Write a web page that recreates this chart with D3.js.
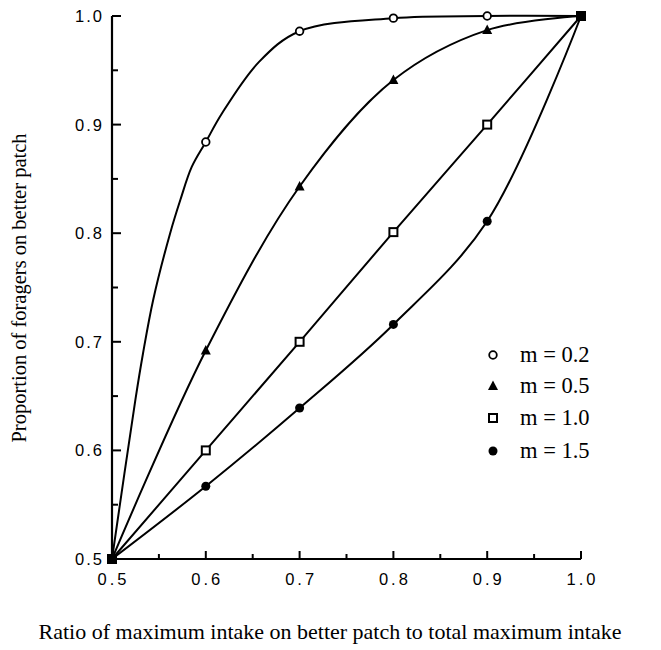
<!DOCTYPE html>
<html>
<head>
<meta charset="utf-8">
<script src="https://cdn.jsdelivr.net/npm/d3@7"></script>
<style>
  body { margin: 0; background: #fff; }
  svg { display: block; }
</style>
</head>
<body>
<svg width="661" height="650"></svg>
<script>
// ratio of max intake on better patch (x) for the marked points
var xMarks = [0.6, 0.7, 0.8, 0.9];
var xTicks = [0.5, 0.6, 0.7, 0.8, 0.9, 1.0];
var yTicks = [0.5, 0.6, 0.7, 0.8, 0.9, 1.0];
var minorTicks = [0.55, 0.65, 0.75, 0.85, 0.95];

// proportion on better patch at the marked x values
var m02 = [0.884, 0.986, 0.998, 1.0];
var m05 = [0.692, 0.843, 0.941, 0.987];
var m10 = [0.600, 0.700, 0.801, 0.900];
var m15 = [0.567, 0.639, 0.716, 0.811];

var m02CurveX = [0.525, 0.533, 0.544, 0.562, 0.573, 0.585, 0.617, 0.657];
var m02CurveY = [0.647, 0.689, 0.739, 0.800, 0.831, 0.861, 0.910, 0.958];

var labels = ["m = 0.2", "m = 0.5", "m = 1.0", "m = 1.5"];
var shapes = ["openCircle", "triangle", "openSquare", "dot"];

var svg = d3.select("svg");
var g = svg.append("g");

var x = d3.scaleLinear().domain([0.5, 1.0]).range([112, 581]);
var y = d3.scaleLinear().domain([0.5, 1.0]).range([559, 16]);

function buildSeries(vals, extraX, extraY) {
    var pts = [[0.5, 0.5]];
    xMarks.forEach(function (xv, i) { pts.push([xv, vals[i]]); });
    if (extraX) {
        extraX.forEach(function (xv, i) { pts.push([xv, extraY[i]]); });
    }
    pts.push([1.0, 1.0]);
    pts.sort(function (a, b) { return a[0] - b[0]; });
    return pts;
}

var series = [
    { vals: m02, pts: buildSeries(m02, m02CurveX, m02CurveY), shape: shapes[0] },
    { vals: m05, pts: buildSeries(m05), shape: shapes[1] },
    { vals: m10, pts: buildSeries(m10), shape: shapes[2] },
    { vals: m15, pts: buildSeries(m15), shape: shapes[3] }
];

var line = d3.line()
    .x(function (d) { return x(d[0]); })
    .y(function (d) { return y(d[1]); })
    .curve(d3.curveCatmullRom.alpha(0.5));

// curves
g.append("g").selectAll("path")
    .data(series)
    .enter()
    .append("path")
    .attr("d", function (d) { return line(d.pts); })
    .attr("fill", "none")
    .attr("stroke", "#000")
    .attr("stroke-width", 2);

// draw one marker shape at (cx, cy)
function marker(sel, shape, cx, cy) {
    if (shape == "openCircle") {
        sel.append("circle").attr("cx", cx).attr("cy", cy).attr("r", 3.8)
            .attr("fill", "#fff").attr("stroke", "#000").attr("stroke-width", 1.8);
    } else if (shape == "dot") {
        sel.append("circle").attr("cx", cx).attr("cy", cy).attr("r", 4.5)
            .attr("fill", "#000");
    } else if (shape == "triangle") {
        sel.append("path")
            .attr("d", "M" + cx + "," + (cy - 5.5) + "L" + (cx + 5) + "," + (cy + 4) + "L" + (cx - 5) + "," + (cy + 4) + "Z")
            .attr("fill", "#000");
    } else if (shape == "openSquare") {
        sel.append("rect").attr("x", cx - 4).attr("y", cy - 4).attr("width", 8).attr("height", 8)
            .attr("fill", "#fff").attr("stroke", "#000").attr("stroke-width", 2);
    } else if (shape == "filledSquare") {
        sel.append("rect").attr("x", cx - 5).attr("y", cy - 5).attr("width", 10).attr("height", 10)
            .attr("fill", "#000");
    }
}

var marks = g.append("g");
series.forEach(function (s) {
    s.vals.forEach(function (v, i) {
        marker(marks, s.shape, x(xMarks[i]), y(v));
    });
});
// shared end points
marker(marks, "filledSquare", x(0.5), y(0.5));
marker(marks, "filledSquare", x(1.0), y(1.0));

// axes
var ax = g.append("g").attr("stroke", "#000");
ax.append("line").attr("x1", x(0.5)).attr("x2", x(1.0)).attr("y1", y(0.5)).attr("y2", y(0.5)).attr("stroke-width", 2.2);
ax.append("line").attr("x1", x(0.5)).attr("x2", x(0.5)).attr("y1", y(0.5)).attr("y2", y(1.0)).attr("stroke-width", 2.2);

xTicks.forEach(function (t) {
    ax.append("line").attr("x1", x(t)).attr("x2", x(t)).attr("y1", y(0.5)).attr("y2", y(0.5) - 8).attr("stroke-width", 2);
});
minorTicks.forEach(function (t) {
    ax.append("line").attr("x1", x(t)).attr("x2", x(t)).attr("y1", y(0.5)).attr("y2", y(0.5) - 5).attr("stroke-width", 2);
});
yTicks.forEach(function (t) {
    ax.append("line").attr("x1", x(0.5)).attr("x2", x(0.5) + 9).attr("y1", y(t)).attr("y2", y(t)).attr("stroke-width", 2);
});
minorTicks.forEach(function (t) {
    ax.append("line").attr("x1", x(0.5)).attr("x2", x(0.5) + 6).attr("y1", y(t)).attr("y2", y(t)).attr("stroke-width", 2);
});

var tickFont = "'Liberation Sans', Arial, sans-serif";
g.append("g").selectAll("text")
    .data(xTicks)
    .enter()
    .append("text")
    .attr("x", function (d) { return x(d) + 1.5; })
    .attr("y", 585)
    .attr("text-anchor", "middle")
    .attr("font-family", tickFont)
    .attr("font-size", 16.5)
    .attr("letter-spacing", 3)
    .text(function (d) { return d.toFixed(1); });

g.append("g").selectAll("text")
    .data(yTicks)
    .enter()
    .append("text")
    .attr("x", 104)
    .attr("y", function (d) { return y(d) + 6; })
    .attr("text-anchor", "end")
    .attr("font-family", tickFont)
    .attr("font-size", 16.5)
    .attr("letter-spacing", 2)
    .text(function (d) { return d.toFixed(1); });

// legend
var serif = "'Liberation Serif', 'Times New Roman', serif";
var legend = g.append("g");
var legendY = [355, 386, 418, 451];
labels.forEach(function (lab, i) {
    marker(legend, shapes[i], 493, legendY[i]);
    legend.append("text")
        .attr("x", 520)
        .attr("y", legendY[i] + 7)
        .attr("font-family", serif)
        .attr("font-size", 22.5)
        .text(lab);
});

// axis titles
svg.append("text")
    .attr("x", 330)
    .attr("y", 639)
    .attr("text-anchor", "middle")
    .attr("font-family", serif)
    .attr("font-size", 22)
    .text("Ratio of maximum intake on better patch to total maximum intake");

svg.append("text")
    .attr("transform", "translate(26,288) rotate(-90)")
    .attr("text-anchor", "middle")
    .attr("font-family", serif)
    .attr("font-size", 20.5)
    .text("Proportion of foragers on better patch");
</script>
</body>
</html>
